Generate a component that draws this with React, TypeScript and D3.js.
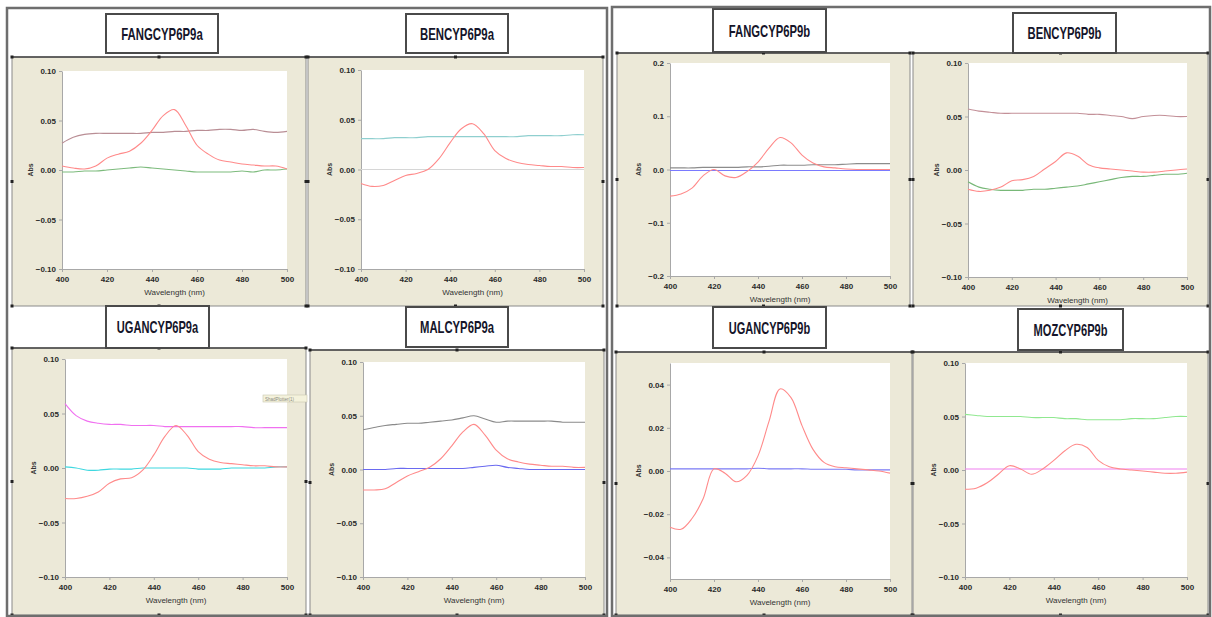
import React, { useEffect, useRef } from "react";
import * as d3 from "d3";

// wavelength grid shared by every trace (nm)
const wavelengths = [400, 405, 410, 415, 420, 425, 430, 435, 440, 445, 450, 455, 460, 465, 470, 475, 480, 485, 490, 495, 500];

const titles = ["FANGCYP6P9a", "BENCYP6P9a", "FANGCYP6P9b", "BENCYP6P9b", "UGANCYP6P9a", "MALCYP6P9a", "UGANCYP6P9b", "MOZCYP6P9b"];

// FANGCYP6P9a
const fangABrown = [0.027, 0.033, 0.036, 0.037, 0.037, 0.037, 0.037, 0.037, 0.038, 0.038, 0.039, 0.039, 0.040, 0.040, 0.041, 0.041, 0.040, 0.041, 0.039, 0.038, 0.039];
const fangAGreen = [-0.002, -0.002, -0.001, -0.001, 0.000, 0.001, 0.002, 0.003, 0.002, 0.001, 0.000, -0.001, -0.002, -0.002, -0.002, -0.002, -0.001, -0.002, 0.000, 0.000, 0.001];
const fangARed = [0.004, 0.002, 0.001, 0.004, 0.012, 0.016, 0.019, 0.027, 0.040, 0.055, 0.061, 0.045, 0.025, 0.016, 0.010, 0.008, 0.006, 0.005, 0.004, 0.004, 0.001];

// BENCYP6P9a
const benATeal = [0.031, 0.031, 0.031, 0.032, 0.032, 0.032, 0.033, 0.033, 0.033, 0.033, 0.033, 0.033, 0.033, 0.033, 0.033, 0.034, 0.034, 0.034, 0.034, 0.035, 0.035];
const benAGray = [0, 0, 0, 0, 0, 0, 0, 0, 0, 0, 0, 0, 0, 0, 0, 0, 0, 0, 0, 0, 0];
const benARed = [-0.014, -0.017, -0.016, -0.011, -0.006, -0.004, 0.000, 0.011, 0.027, 0.041, 0.046, 0.036, 0.019, 0.011, 0.007, 0.005, 0.004, 0.003, 0.003, 0.002, 0.002];

// FANGCYP6P9b
const fangBGray = [0.003, 0.003, 0.003, 0.004, 0.004, 0.004, 0.004, 0.005, 0.005, 0.006, 0.008, 0.008, 0.008, 0.009, 0.009, 0.009, 0.010, 0.011, 0.011, 0.011, 0.011];
const fangBBlue = [-0.002, -0.002, -0.002, -0.002, -0.002, -0.002, -0.002, -0.002, -0.002, -0.002, -0.002, -0.002, -0.002, -0.002, -0.002, -0.002, -0.002, -0.002, -0.002, -0.002, -0.002];
const fangBRed = [-0.050, -0.046, -0.035, -0.012, 0.000, -0.012, -0.015, -0.004, 0.014, 0.040, 0.060, 0.050, 0.027, 0.012, 0.005, 0.003, 0.001, 0.000, 0.000, 0.000, 0.000];

// BENCYP6P9b
const benBRose = [0.057, 0.055, 0.054, 0.053, 0.053, 0.053, 0.053, 0.053, 0.053, 0.053, 0.053, 0.052, 0.052, 0.051, 0.050, 0.048, 0.050, 0.051, 0.051, 0.050, 0.050];
const benBGreen = [-0.011, -0.016, -0.018, -0.019, -0.019, -0.019, -0.018, -0.018, -0.017, -0.016, -0.015, -0.013, -0.011, -0.009, -0.007, -0.006, -0.006, -0.005, -0.004, -0.004, -0.003];
const benBRed = [-0.018, -0.020, -0.019, -0.016, -0.010, -0.009, -0.006, 0.001, 0.008, 0.016, 0.013, 0.005, 0.002, 0.001, 0.000, -0.001, -0.002, -0.002, -0.001, 0.000, 0.001];

// UGANCYP6P9a
const ugaAMagenta = [0.059, 0.048, 0.043, 0.041, 0.040, 0.040, 0.039, 0.039, 0.039, 0.038, 0.038, 0.038, 0.038, 0.038, 0.038, 0.038, 0.038, 0.037, 0.037, 0.037, 0.037];
const ugaACyan = [0.001, 0.000, -0.002, -0.002, -0.001, -0.001, -0.001, 0.000, 0.000, 0.000, 0.000, 0.000, -0.001, -0.001, -0.001, 0.000, 0.000, 0.000, 0.000, 0.001, 0.001];
const ugaARed = [-0.028, -0.028, -0.026, -0.022, -0.014, -0.010, -0.009, -0.002, 0.012, 0.029, 0.039, 0.030, 0.015, 0.008, 0.005, 0.004, 0.003, 0.002, 0.002, 0.001, 0.001];

// MALCYP6P9a
const malAGray = [0.037, 0.039, 0.041, 0.042, 0.043, 0.043, 0.044, 0.045, 0.046, 0.048, 0.050, 0.047, 0.044, 0.045, 0.045, 0.045, 0.045, 0.045, 0.044, 0.044, 0.044];
const malABlue = [0.000, 0.000, 0.000, 0.001, 0.001, 0.001, 0.001, 0.001, 0.001, 0.001, 0.002, 0.003, 0.004, 0.002, 0.001, 0.000, 0.000, 0.000, 0.000, 0.000, 0.000];
const malARed = [-0.019, -0.019, -0.018, -0.012, -0.006, -0.002, 0.002, 0.010, 0.022, 0.035, 0.042, 0.032, 0.018, 0.010, 0.007, 0.005, 0.004, 0.003, 0.003, 0.002, 0.002];

// UGANCYP6P9b
const ugaBBlue = [0.001, 0.001, 0.001, 0.001, 0.001, 0.001, 0.001, 0.001, 0.0013, 0.001, 0.001, 0.001, 0.001, 0.0008, 0.0008, 0.0008, 0.0008, 0.0005, 0.0005, 0.0005, 0.0005];
const ugaBRed = [-0.026, -0.027, -0.022, -0.013, 0.001, -0.001, -0.005, -0.002, 0.007, 0.023, 0.038, 0.034, 0.021, 0.010, 0.004, 0.002, 0.0015, 0.001, 0.0005, 0.000, -0.001];

// MOZCYP6P9b
const mozBGreen = [0.052, 0.051, 0.050, 0.050, 0.050, 0.050, 0.049, 0.049, 0.049, 0.048, 0.048, 0.047, 0.047, 0.047, 0.047, 0.048, 0.048, 0.048, 0.049, 0.050, 0.050];
const mozBMagenta = [0.001, 0.001, 0.001, 0.001, 0.001, 0.001, 0.001, 0.001, 0.001, 0.001, 0.001, 0.001, 0.001, 0.001, 0.001, 0.001, 0.001, 0.001, 0.001, 0.001, 0.001];
const mozBRed = [-0.018, -0.017, -0.012, -0.004, 0.004, 0.001, -0.004, 0.001, 0.009, 0.018, 0.024, 0.021, 0.009, 0.003, 0.001, 0.000, -0.001, -0.002, -0.003, -0.003, -0.002];

const xTicks = [400, 420, 440, 460, 480, 500];
const yTicks10 = [-0.1, -0.05, 0, 0.05, 0.1];
const yTicks20 = [-0.2, -0.1, 0, 0.1, 0.2];
const yTicks05 = [-0.04, -0.02, 0, 0.02, 0.04];

const RED = "#ff8a8a";

// layout: box = beige frame, plot = white area, tb = title box  [x0, y0, x1, y1]
const panels = [
  { title: titles[0], box: [12, 57, 306, 306], plot: [62, 71, 287, 269], tb: [106, 14, 218, 53], dom: [-0.1, 0.1], yt: yTicks10, fmt: ".2f",
    series: [{ v: fangABrown, c: "#b98e95" }, { v: fangAGreen, c: "#7dbb7d" }, { v: fangARed, c: RED }] },
  { title: titles[1], box: [308, 57, 603, 306], plot: [361, 70, 584, 269], tb: [406, 14, 508, 53], dom: [-0.1, 0.1], yt: yTicks10, fmt: ".2f",
    series: [{ v: benATeal, c: "#8fcfcf" }, { v: benAGray, c: "#d6d6d6" }, { v: benARed, c: RED }] },
  { title: titles[2], box: [617, 53, 910, 306], plot: [670, 63, 890, 276], tb: [713, 9, 826, 52], dom: [-0.2, 0.2], yt: yTicks20, fmt: ".1f",
    series: [{ v: fangBGray, c: "#8c8c8c" }, { v: fangBBlue, c: "#7a7aff" }, { v: fangBRed, c: RED }] },
  { title: titles[3], box: [913, 53, 1208, 306], plot: [968, 63, 1187, 277], tb: [1013, 13, 1116, 53], dom: [-0.1, 0.1], yt: yTicks10, fmt: ".2f",
    series: [{ v: benBRose, c: "#c39098" }, { v: benBGreen, c: "#78b878" }, { v: benBRed, c: RED }] },
  { title: titles[4], box: [12, 348, 306, 615], plot: [65, 359, 287, 577], tb: [106, 306, 209, 348], dom: [-0.1, 0.1], yt: yTicks10, fmt: ".2f",
    series: [{ v: ugaAMagenta, c: "#f070f0" }, { v: ugaACyan, c: "#3fd8e0" }, { v: ugaARed, c: RED }] },
  { title: titles[5], box: [310, 350, 604, 615], plot: [363, 362, 585, 577], tb: [406, 307, 508, 347], dom: [-0.1, 0.1], yt: yTicks10, fmt: ".2f",
    series: [{ v: malAGray, c: "#8a8a8a" }, { v: malABlue, c: "#6a6af0" }, { v: malARed, c: RED }] },
  { title: titles[6], box: [616, 352, 912, 615], plot: [670, 363, 890, 579], tb: [713, 307, 826, 348], dom: [-0.05, 0.05], yt: yTicks05, fmt: ".2f",
    series: [{ v: ugaBBlue, c: "#7a7af5" }, { v: ugaBRed, c: RED }] },
  { title: titles[7], box: [913, 352, 1208, 615], plot: [965, 363, 1187, 577], tb: [1018, 309, 1123, 350], dom: [-0.1, 0.1], yt: yTicks10, fmt: ".2f",
    series: [{ v: mozBGreen, c: "#90e890" }, { v: mozBMagenta, c: "#f080f0" }, { v: mozBRed, c: RED }] },
];

const W = 1212;
const H = 617;

const App = () => {
  const svgRef = useRef<SVGSVGElement>(null);

  useEffect(() => {
    const svg = d3.select(svgRef.current);
    svg.selectAll("*").remove();
    svg.append("rect").attr("width", W).attr("height", H).attr("fill", "#fff");

    panels.forEach((p) => {
      const [bx0, by0, bx1, by1] = p.box;
      const [px0, py0, px1, py1] = p.plot;
      const g = svg.append("g");

      // beige frame
      g.append("rect")
        .attr("x", bx0).attr("y", by0).attr("width", bx1 - bx0).attr("height", by1 - by0)
        .attr("fill", "#ece9d8").attr("stroke", "#8a8a8a").attr("stroke-width", 1);
      g.append("line").attr("x1", bx0).attr("x2", bx1).attr("y1", by0).attr("y2", by0)
        .attr("stroke", "#444").attr("stroke-width", 1.5);
      // selection handles
      const mx = (bx0 + bx1) / 2;
      const my = (by0 + by1) / 2;
      [[bx0, by0], [mx, by0], [bx1, by0], [bx0, my], [bx1, my], [bx0, by1], [mx, by1], [bx1, by1]].forEach(([hx, hy]) => {
        g.append("rect").attr("x", hx - 1.5).attr("y", hy - 1.5).attr("width", 3).attr("height", 3).attr("fill", "#222");
      });

      // plot area
      g.append("rect").attr("x", px0).attr("y", py0).attr("width", px1 - px0).attr("height", py1 - py0).attr("fill", "#fff");

      const x = d3.scaleLinear().domain([400, 500]).range([px0, px1]);
      const y = d3.scaleLinear().domain(p.dom).range([py1, py0]);

      const xAxis = g.append("g").attr("transform", `translate(0,${py1})`)
        .call(d3.axisBottom(x).tickValues(xTicks).tickSize(3).tickSizeOuter(0).tickPadding(4));
      const yAxis = g.append("g").attr("transform", `translate(${px0},0)`)
        .call(d3.axisLeft(y).tickValues(p.yt).tickSize(3).tickSizeOuter(0).tickPadding(3).tickFormat(d3.format(p.fmt)));
      [xAxis, yAxis].forEach((a) => {
        a.select(".domain").attr("stroke", "#a8a8a8");
        a.selectAll(".tick line").attr("stroke", "#a8a8a8");
        a.selectAll(".tick text")
          .attr("font-family", "'Liberation Sans Narrow', 'Liberation Sans', sans-serif")
          .attr("font-size", 8).attr("font-weight", "bold").attr("fill", "#2a2a2a");
      });

      g.append("text")
        .attr("x", (px0 + px1) / 2).attr("y", py1 + 26)
        .attr("text-anchor", "middle")
        .attr("font-family", "'Liberation Sans', sans-serif").attr("font-size", 8).attr("fill", "#333")
        .text("Wavelength (nm)");
      g.append("text")
        .attr("transform", `translate(${px0 - 29},${(py0 + py1) / 2}) rotate(-90)`)
        .attr("text-anchor", "middle")
        .attr("font-family", "'Liberation Sans', sans-serif").attr("font-size", 7).attr("font-weight", "bold").attr("fill", "#333")
        .text("Abs");

      const line = d3.line<number>()
        .x((d, i) => x(wavelengths[i]))
        .y((d) => y(d))
        .curve(d3.curveCatmullRom.alpha(0.5));

      g.selectAll(".trace")
        .data(p.series)
        .join("path")
        .attr("d", (s) => line(s.v))
        .attr("fill", "none")
        .attr("stroke", (s) => s.c)
        .attr("stroke-width", 1.1);

      // title box
      const [tx0, ty0, tx1, ty1] = p.tb;
      g.append("rect")
        .attr("x", tx0).attr("y", ty0).attr("width", tx1 - tx0).attr("height", ty1 - ty0)
        .attr("fill", "#fff").attr("stroke", "#4a4a4a").attr("stroke-width", 2);
      g.append("text")
        .attr("x", (tx0 + tx1) / 2).attr("y", (ty0 + ty1) / 2 + 6)
        .attr("text-anchor", "middle")
        .attr("font-family", "'Liberation Sans Narrow', 'Liberation Sans', sans-serif")
        .attr("font-size", 17).attr("font-weight", "bold").attr("fill", "#15152a")
        .attr("textLength", p.title.length * 7.4).attr("lengthAdjust", "spacingAndGlyphs")
        .text(p.title);
    });

    // little tooltip left over in the UGANCYP6P9a frame
    svg.append("rect").attr("x", 263).attr("y", 395).attr("width", 44).attr("height", 7)
      .attr("fill", "#f4f2dc").attr("stroke", "#c8c6b0").attr("stroke-width", 0.6);
    svg.append("text").attr("x", 265).attr("y", 400.5)
      .attr("font-family", "'Liberation Sans', sans-serif").attr("font-size", 4.5).attr("fill", "#8a8a80")
      .text("ShadPlotter(1)");

    // outer window frames
    svg.append("rect").attr("x", 7).attr("y", 8).attr("width", 600).attr("height", 608)
      .attr("fill", "none").attr("stroke", "#6e6e6e").attr("stroke-width", 2.5);
    svg.append("rect").attr("x", 612).attr("y", 7).attr("width", 598).attr("height", 609)
      .attr("fill", "none").attr("stroke", "#6e6e6e").attr("stroke-width", 2.5);
  }, []);

  return (
    <svg ref={svgRef} width={W} height={H} style={{ position: "absolute", left: 0, top: 0 }}></svg>
  );
};

export default App;
